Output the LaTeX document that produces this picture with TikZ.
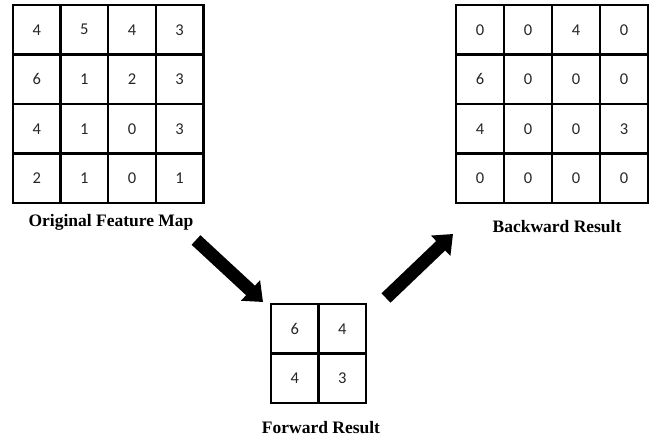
\documentclass[tikz,border=0pt]{standalone}
\usepackage{fontspec}
\setmainfont{Liberation Serif}
\newfontfamily\numfont{Carlito}
\usetikzlibrary{arrows.meta}
\usetikzlibrary{calc}
\tikzstyle{cell}=[draw,line width=2.5pt,minimum width=47.6pt,minimum height=49.5pt,inner sep=0pt,outer sep=0pt,font=\numfont\fontsize{16.5}{19}\selectfont,text=black!85]
\tikzstyle{caption}=[anchor=base,font=\bfseries\fontsize{17.5}{20}\selectfont]
\tikzstyle{bigarrow}=[draw,line width=13pt,-{Triangle[width=27pt,length=17pt]}]

\begin{document}
\begin{tikzpicture}[x=1pt,y=-1pt]
    \useasboundingbox (0,0) rectangle (651,438);

    % First the three grids of cells
    \foreach \label [count=\i from 0] in {4,5,4,3, 6,1,2,3, 4,1,0,3, 2,1,0,1}
    {
        \pgfmathtruncatemacro{\r}{div(\i,4)}
        \pgfmathtruncatemacro{\c}{mod(\i,4)}
        \node[cell] (o\r\c) at (36.8+47.6*\c, 29.75+49.5*\r) {\label};
    }

    \foreach \label [count=\i from 0] in {0,0,4,0, 6,0,0,0, 4,0,0,3, 0,0,0,0}
    {
        \pgfmathtruncatemacro{\r}{div(\i,4)}
        \pgfmathtruncatemacro{\c}{mod(\i,4)}
        \node[cell,minimum width=48pt] (b\r\c) at (480+48*\c, 29.75+49.5*\r) {\label};
    }

    \foreach \label [count=\i from 0] in {6,4,4,3}
    {
        \pgfmathtruncatemacro{\r}{div(\i,2)}
        \pgfmathtruncatemacro{\c}{mod(\i,2)}
        \node[cell,minimum width=47.5pt] (f\r\c) at (294.75+47.5*\c, 328.75+49.5*\r) {\label};
    }

    % captions
    \node[caption] (origlabel) at (111,227) {Original Feature Map};
    \node[caption] (backlabel) at (557,233) {Backward Result};
    \node[caption] (fwdlabel) at (321,433) {Forward Result};

    % the two big arrows
    \coordinate (fwdtail) at (196,240);
    \coordinate (fwdtip) at (263,302);
    \coordinate (backtail) at (386,298);
    \coordinate (backtip) at (453,234);
    \path[bigarrow] (fwdtail) -- (fwdtip);
    \path[bigarrow] (backtail) -- (backtip);
\end{tikzpicture}
\end{document}
